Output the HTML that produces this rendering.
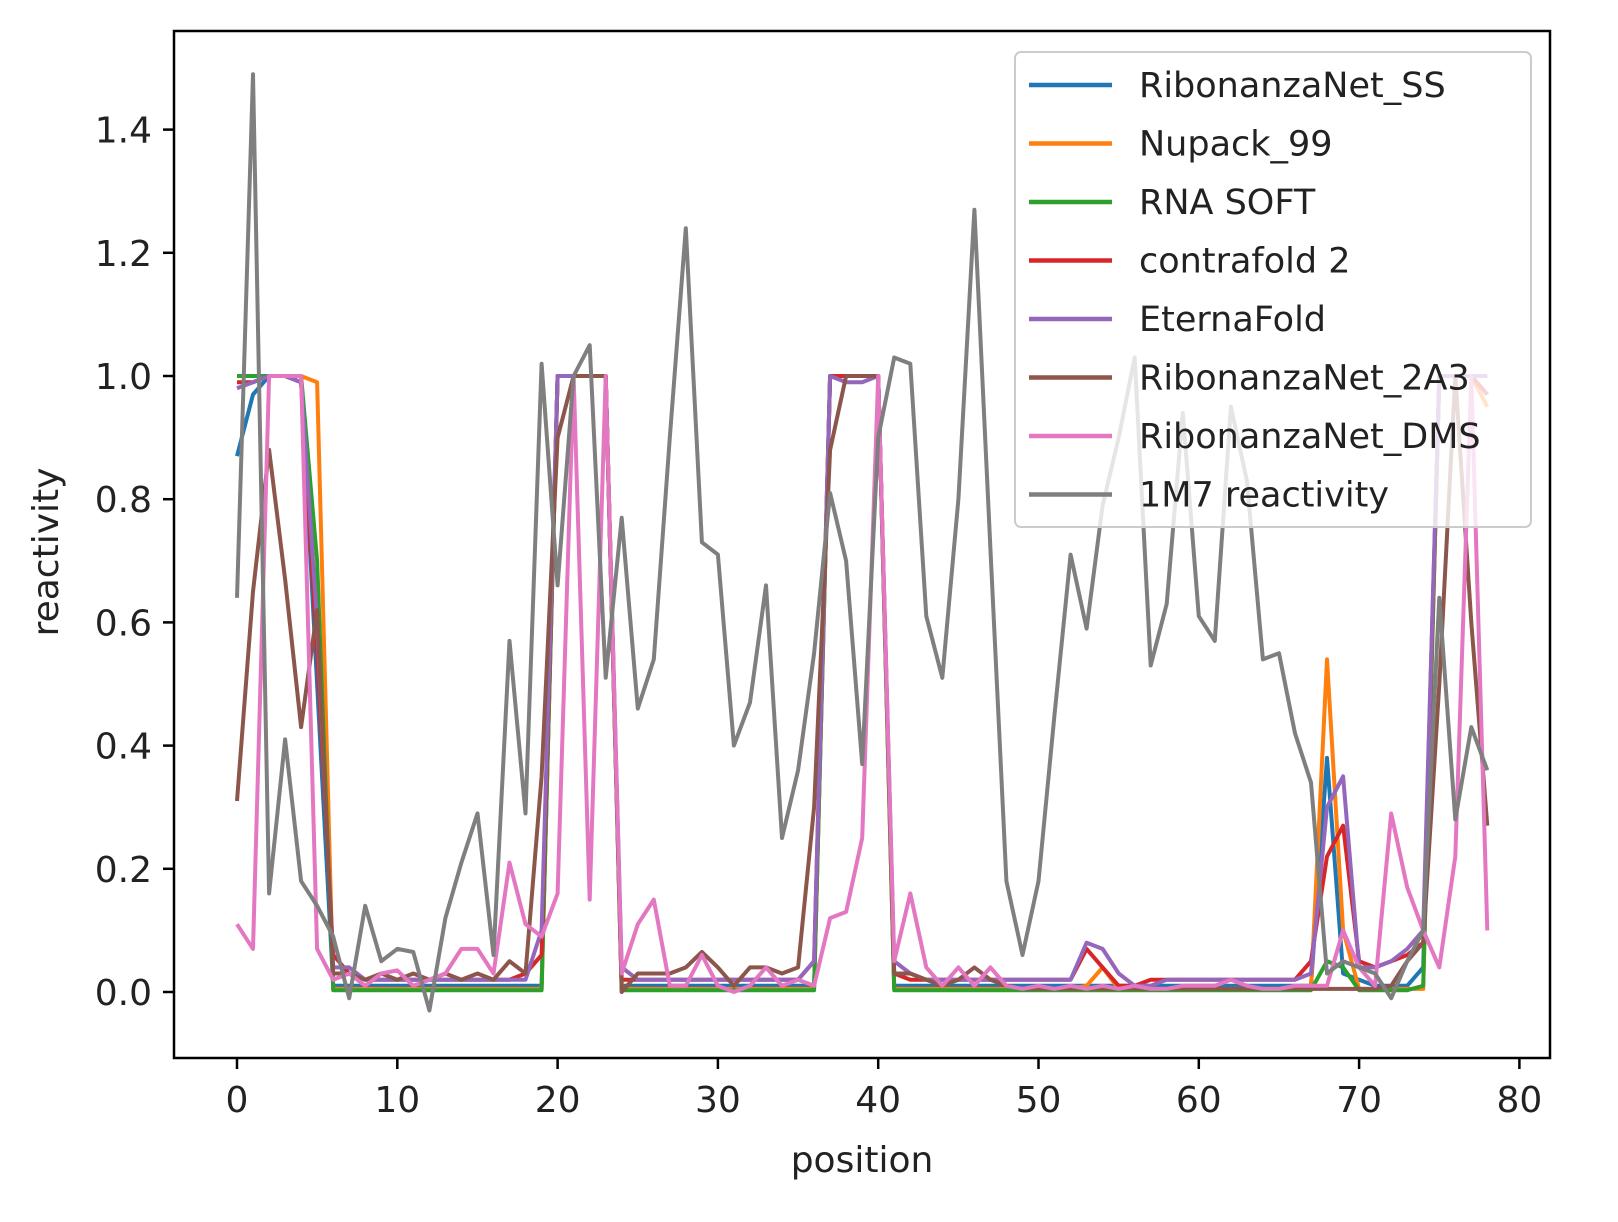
<!DOCTYPE html>
<html><head><meta charset="utf-8">
<style>html,body{margin:0;padding:0;background:#fff}svg{display:block}</style>
</head><body>
<svg id="s" width="1618" height="1222" xmlns="http://www.w3.org/2000/svg" font-family="DejaVu Sans, Liberation Sans, sans-serif">
<rect width="1618" height="1222" fill="#fff"/>
<g id="lines"></g>
<rect x="174" y="31" width="1376" height="1027" fill="none" stroke="#000" stroke-width="2.5"/>
<g id="ticks" stroke="#000" stroke-width="2.5"></g>
<g id="tl" font-size="36" fill="#222"></g>
<text x="862" y="1172" font-size="36" text-anchor="middle" fill="#222">position</text>
<text transform="translate(58,552) rotate(-90)" font-size="36" text-anchor="middle" fill="#222">reactivity</text>
<g id="leg"></g>
</svg>
<script>
const X=i=>237+16.03*i, Y=v=>992-616*v;
const N=79;
function fill(def,over){const a=new Array(N).fill(0).map((_,i)=>def(i));for(const k in over)a[+k]=over[k];return a;}
function hi(i){return (i<=4)||(i>=20&&i<=23)||(i>=37&&i<=40)||(i>=75);}
const base=(lo)=>i=>hi(i)?1:lo;
const blue=fill(base(0.01),{0:0.87,1:0.97,4:0.99,5:0.5,68:0.38,69:0.03,70:0.02,74:0.04,78:0.97});
const orange=fill(base(0.005),{0:1,5:0.99,54:0.04,53:0.01,68:0.54,69:0.1,78:0.95});
const green=fill(base(0.003),{5:0.7,68:0.05,69:0.04,74:0.01});
const red=fill(base(0.02),{0:0.99,1:0.99,4:0.99,5:0.55,6:0.06,7:0.03,18:0.03,19:0.06,24:0.02,36:0.05,41:0.03,53:0.07,54:0.04,55:0.01,56:0.01,67:0.05,68:0.22,69:0.27,70:0.05,71:0.04,72:0.05,73:0.06,74:0.08,78:0.97});
const purple=fill(base(0.02),{0:0.98,1:0.99,4:0.99,5:0.6,6:0.04,7:0.04,19:0.1,24:0.04,36:0.05,38:0.99,39:0.99,41:0.05,42:0.03,53:0.08,54:0.07,55:0.03,56:0.01,57:0.01,67:0.03,68:0.3,69:0.35,70:0.04,71:0.04,72:0.05,73:0.07,74:0.1});
const brown=[0.31,0.65,0.88,0.67,0.43,0.62,0.03,0.03,0.02,0.03,0.02,0.03,0.02,0.03,0.02,0.03,0.02,0.05,0.03,0.35,0.9,1,1,1,0.0,0.03,0.03,0.03,0.04,0.065,0.04,0.01,0.04,0.04,0.03,0.04,0.3,0.88,1,1,1,0.03,0.03,0.02,0.01,0.02,0.04,0.02,0.01,0.005,0.005,0.005,0.005,0.005,0.005,0.005,0.005,0.005,0.005,0.005,0.005,0.005,0.005,0.005,0.005,0.005,0.005,0.005,0.005,0.005,0.005,0.005,0.01,0.05,0.08,0.5,1,0.6,0.27];
const pink=[0.11,0.07,1,1,1,0.07,0.02,0.03,0.01,0.03,0.035,0.01,0.02,0.03,0.07,0.07,0.03,0.21,0.11,0.09,0.16,1,0.15,1,0.03,0.11,0.15,0.01,0.01,0.06,0.01,0.0,0.01,0.04,0.01,0.02,0.01,0.12,0.13,0.25,1,0.05,0.16,0.04,0.01,0.04,0.01,0.04,0.01,0.005,0.01,0.005,0.01,0.005,0.01,0.005,0.01,0.005,0.005,0.01,0.01,0.01,0.02,0.01,0.005,0.005,0.01,0.01,0.01,0.1,0.04,0.01,0.29,0.17,0.1,0.04,0.22,1,0.1];
const gray=[0.64,1.49,0.16,0.41,0.18,0.14,0.09,-0.01,0.14,0.05,0.07,0.065,-0.03,0.12,0.21,0.29,0.06,0.57,0.29,1.02,0.66,1.0,1.05,0.51,0.77,0.46,0.54,0.9,1.24,0.73,0.71,0.4,0.47,0.66,0.25,0.36,0.55,0.81,0.7,0.37,0.9,1.03,1.02,0.61,0.51,0.8,1.27,0.72,0.18,0.06,0.18,0.45,0.71,0.59,0.79,0.9,1.03,0.53,0.63,0.94,0.61,0.57,0.95,0.83,0.54,0.55,0.42,0.34,0.03,0.05,0.04,0.03,-0.01,0.05,0.1,0.64,0.28,0.43,0.36];
const series=[[blue,'#1f77b4','RibonanzaNet_SS'],[orange,'#ff7f0e','Nupack_99'],[green,'#2ca02c','RNA SOFT'],[red,'#d62728','contrafold 2'],[purple,'#9467bd','EternaFold'],[brown,'#8c564b','RibonanzaNet_2A3'],[pink,'#e377c2','RibonanzaNet_DMS'],[gray,'#7f7f7f','1M7 reactivity']];
const NS='http://www.w3.org/2000/svg';
function el(t,a,p){const e=document.createElementNS(NS,t);for(const k in a)e.setAttribute(k,a[k]);p.appendChild(e);return e;}
const L=document.getElementById('lines');
series.forEach(([d,c])=>{el('polyline',{points:d.map((v,i)=>X(i).toFixed(1)+','+Y(v).toFixed(1)).join(' '),fill:'none',stroke:c,'stroke-width':4,'stroke-linejoin':'round'},L);});
const T=document.getElementById('ticks'),TL=document.getElementById('tl');
for(let k=0;k<=80;k+=10){el('line',{x1:X(k),x2:X(k),y1:1058,y2:1069},T);const t=el('text',{x:X(k),y:1112,'text-anchor':'middle'},TL);t.textContent=k;}
for(let k=0;k<=7;k++){const v=k*0.2;el('line',{x1:163,x2:174,y1:Y(v),y2:Y(v)},T);const t=el('text',{x:152,y:Y(v)+13,'text-anchor':'end'},TL);t.textContent=v.toFixed(1);}
const G=document.getElementById('leg');
el('rect',{x:1015,y:52,width:516,height:475,rx:6,fill:'#fff','fill-opacity':0.8,stroke:'#ccc','stroke-width':2},G);
series.forEach(([d,c,n],i)=>{const y=85+i*58.5;el('line',{x1:1029,x2:1112,y1:y,y2:y,stroke:c,'stroke-width':4.5},G);const t=el('text',{x:1139,y:y+12,'font-size':35,fill:'#222'},G);t.textContent=n;});
</script>
</body></html>
